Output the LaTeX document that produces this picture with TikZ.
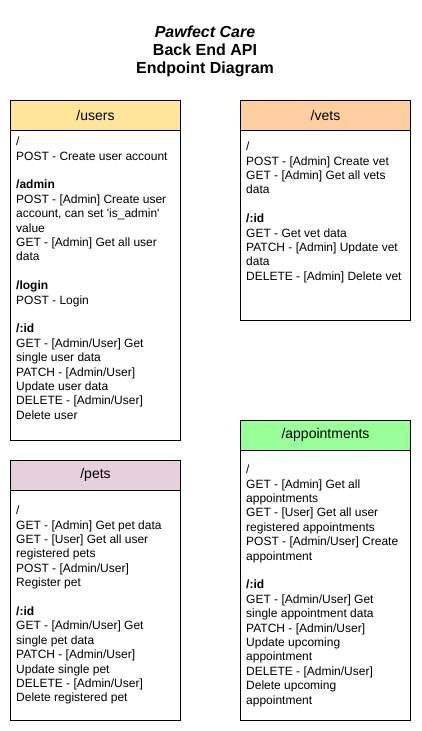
\documentclass[tikz,border=0pt]{standalone}
\usepackage{fontspec}
\setmainfont{Liberation Sans}
\definecolor{usersFill}{HTML}{FFE599}
\definecolor{vetsFill}{HTML}{FFCE9F}
\definecolor{petsFill}{HTML}{E6D0DE}
\definecolor{apptFill}{HTML}{99FF99}
\begin{document}
\begin{tikzpicture}[x=1pt,y=1pt,yscale=-1,xscale=1,
  head/.style={draw,line width=1pt,minimum width=170pt,minimum height=30pt,inner sep=0pt,font=\fontsize{14}{16.8}\selectfont},
  body/.style={anchor=north west,inner sep=0pt,align=left,font=\fontsize{12}{14.4}\selectfont},
  box/.style={line width=1pt}]
\useasboundingbox (0,0) rectangle (421,731);

% Text Node
\node (title) at (205,51) [align=center,font=\fontsize{16}{18}\selectfont\bfseries] {\textit{Pawfect Care}\\Back End API\\Endpoint Diagram};

%Shape: Rectangle
\draw [box] (10.5,130) rectangle (180.5,440) ;
\node (usersHead) at (95.5,115) [head,fill=usersFill] {/users};
% Text Node
\node (usersText) at (16,135.5) [body] {\strut/\\POST - Create user account\\[14.4pt]
\textbf{/admin}\\POST - [Admin] Create user\\account, can set \textquotesingle is\_admin\textquotesingle\\value\\GET - [Admin] Get all user\\data\\[14.4pt]
\textbf{/login}\\POST - Login\\[14.4pt]
\textbf{/:id}\\GET - [Admin/User] Get\\single user data\\PATCH - [Admin/User]\\Update user data\\DELETE - [Admin/User]\\Delete user};

%Shape: Rectangle
\draw [box] (240.5,130) rectangle (410.5,320) ;
\node (vetsHead) at (325.5,115) [head,fill=vetsFill] {/vets};
% Text Node
\node (vetsText) at (246,140.5) [body] {\strut/\\POST - [Admin] Create vet\\GET - [Admin] Get all vets\\data\\[14.4pt]
\textbf{/:id}\\GET - Get vet data\\PATCH - [Admin] Update vet\\data\\DELETE - [Admin] Delete vet};

%Shape: Rectangle
\draw [box] (10.5,490) rectangle (180.5,720) ;
\node (petsHead) at (95.5,475) [head,fill=petsFill] {/pets};
% Text Node
\node (petsText) at (16,504.5) [body] {\strut/\\GET - [Admin] Get pet data\\GET - [User] Get all user\\registered pets\\POST - [Admin/User]\\Register pet\\[14.4pt]
\textbf{/:id}\\GET - [Admin/User] Get\\single pet data\\PATCH - [Admin/User]\\Update single pet\\DELETE - [Admin/User]\\Delete registered pet};

%Shape: Rectangle
\draw [box] (240.5,450) rectangle (410.5,720) ;
\node (apptHead) at (325.5,435) [head,fill=apptFill] {/appointments};
% Text Node
\node (apptText) at (246,463.5) [body] {\strut/\\GET - [Admin] Get all\\appointments\\GET - [User] Get all user\\registered appointments\\POST - [Admin/User] Create\\appointment\\[14.4pt]
\textbf{/:id}\\GET - [Admin/User] Get\\single appointment data\\PATCH - [Admin/User]\\Update upcoming\\appointment\\DELETE - [Admin/User]\\Delete upcoming\\appointment};

\end{tikzpicture}
\end{document}
